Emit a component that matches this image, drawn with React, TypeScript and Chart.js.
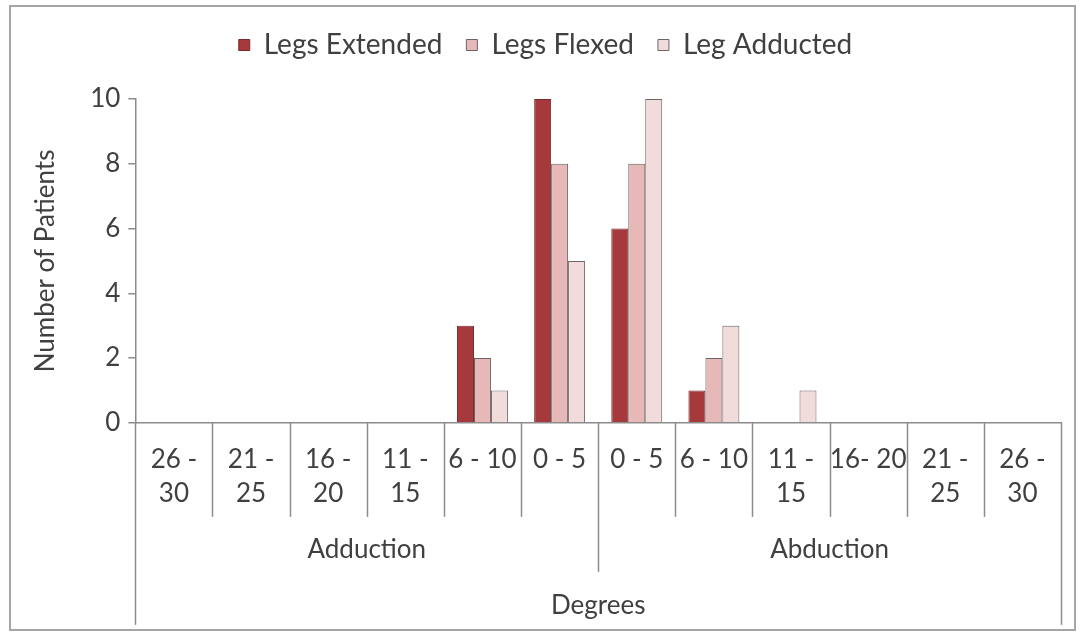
import React, { useEffect, useRef } from "react";
import { Chart, registerables } from "chart.js";

Chart.register(...registerables);

const categories: string[][] = [
  ["26 -", "30"], ["21 -", "25"], ["16 -", "20"], ["11 -", "15"], ["6 - 10"], ["0 - 5"],
  ["0 - 5"], ["6 - 10"], ["11 -", "15"], ["16- 20"], ["21 -", "25"], ["26 -", "30"],
];
const groups = ["Adduction", "Abduction"];
const groupSizes = [6, 6];
const legsExtended = [0, 0, 0, 0, 3, 10, 6, 1, 0, 0, 0, 0];
const legsFlexed = [0, 0, 0, 0, 2, 8, 8, 2, 0, 0, 0, 0];
const legAdducted = [0, 0, 0, 0, 1, 5, 10, 3, 1, 0, 0, 0];
const yTicks = [0, 2, 4, 6, 8, 10];
const xTitle = "Degrees";
const yTitle = "Number of Patients";

const FONT = "Lato";
const TEXT = "#404040";
const AXIS = "#8c8c8c";

const decorPlugin = {
  id: "decor",
  beforeInit(chart: any) {
    const legend = chart.legend;
    if (legend) {
      const origFit = legend.fit;
      legend.fit = function () {
        origFit.call(this);
        this.height += 30;
      };
    }
  },
  beforeDraw(chart: any) {
    const { ctx } = chart;
    ctx.save();
    ctx.fillStyle = "#ffffff";
    ctx.fillRect(0, 0, chart.width, chart.height);
    ctx.strokeStyle = "#a6a6a6";
    ctx.lineWidth = 2;
    ctx.strokeRect(10, 6, 1065, 624);
    ctx.restore();
  },
  afterDraw(chart: any) {
    const { ctx, chartArea } = chart;
    const x = chart.scales.x;
    const n = categories.length;
    const b = chartArea.bottom;
    const boundary = (i: number) =>
      i === 0 ? x.left : i === n ? x.right : (x.getPixelForValue(i - 1) + x.getPixelForValue(i)) / 2;
    const groupEnds: number[] = [];
    let acc = 0;
    groupSizes.forEach((s) => { acc += s; groupEnds.push(acc); });
    ctx.save();
    ctx.strokeStyle = AXIS;
    ctx.lineWidth = 1.5;
    for (let i = 0; i <= n; i++) {
      let len = 94;
      if (i === 0 || i === n) len = 202;
      else if (groupEnds.includes(i)) len = 149;
      const px = Math.round(boundary(i)) + 0.5;
      ctx.beginPath();
      ctx.moveTo(px, b);
      ctx.lineTo(px, b + len);
      ctx.stroke();
    }
    ctx.fillStyle = TEXT;
    ctx.font = `26px ${FONT}`;
    ctx.textAlign = "center";
    ctx.textBaseline = "middle";
    let start = 0;
    groups.forEach((g, gi) => {
      const end = groupEnds[gi];
      const cx = (boundary(start) + boundary(end)) / 2;
      ctx.fillText(g, cx, b + 127);
      start = end;
    });
    ctx.fillText(xTitle, (x.left + x.right) / 2, b + 183);
    ctx.restore();
  },
};

export default function App() {
  const ref = useRef<HTMLCanvasElement | null>(null);
  useEffect(() => {
    if (!ref.current) return;
    Chart.defaults.font.family = FONT;
    Chart.defaults.color = TEXT;
    const chart = new Chart(ref.current, {
      type: "bar",
      data: {
        labels: categories,
        datasets: [
          { label: "Legs Extended", data: legsExtended, backgroundColor: "#A5393B", borderColor: "#7a2a2c", borderWidth: 1 },
          { label: "Legs Flexed", data: legsFlexed, backgroundColor: "#E6B9B8", borderColor: "#6e6262", borderWidth: 1 },
          { label: "Leg Adducted", data: legAdducted, backgroundColor: "#F2DCDB", borderColor: "#6e6666", borderWidth: 1 },
        ],
      },
      options: {
        animation: false,
        responsive: true,
        maintainAspectRatio: false,
        datasets: { bar: { categoryPercentage: 0.66, barPercentage: 1 } },
        layout: { padding: { left: 30, right: 19, top: 7, bottom: 105 } },
        plugins: {
          tooltip: { enabled: false },
          legend: {
            position: "top",
            labels: { boxWidth: 11, boxHeight: 11, padding: 24, font: { size: 28, family: FONT }, color: TEXT },
          },
        },
        scales: {
          x: {
            grid: { display: false, drawTicks: false },
            border: { display: true, color: AXIS, width: 1.5 },
            ticks: { font: { size: 26, family: FONT, lineHeight: 1.33 }, padding: 19, maxRotation: 0, autoSkip: false, color: TEXT },
          },
          y: {
            min: 0,
            max: 10,
            afterBuildTicks: (s: any) => { s.ticks = yTicks.map((v) => ({ value: v })); },
            grid: { display: true, drawOnChartArea: false, drawTicks: true, tickLength: 7, color: AXIS, lineWidth: 1.5 },
            border: { display: true, color: AXIS, width: 1.5 },
            ticks: { font: { size: 26, family: FONT }, padding: 8, color: TEXT },
            title: { display: true, text: yTitle, font: { size: 26, family: FONT }, color: TEXT, padding: { top: 0, bottom: 21 } },
          },
        },
      },
      plugins: [decorPlugin],
    });
    return () => chart.destroy();
  }, []);
  return (
    <div style={{ position: "fixed", left: 0, top: 0, width: 1080, height: 635 }}>
      <canvas ref={ref} width={1080} height={635} />
    </div>
  );
}
